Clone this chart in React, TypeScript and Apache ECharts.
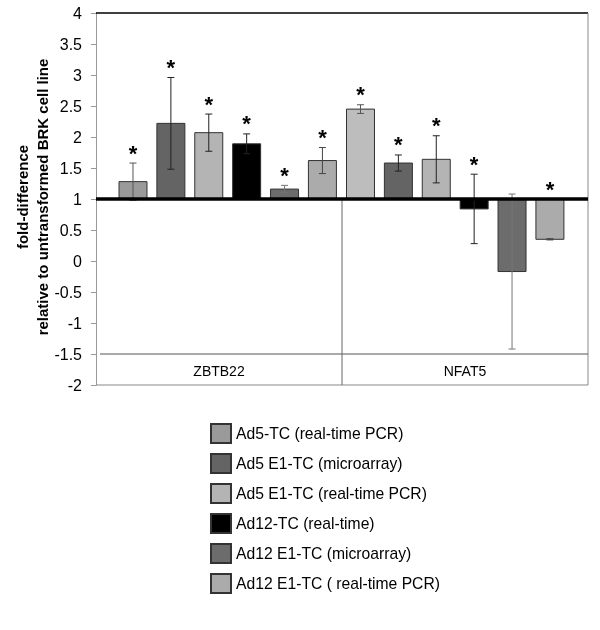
import React, { useEffect, useRef } from "react";
import * as echarts from "echarts";

const categories = ["ZBTB22", "NFAT5"];
const seriesNames = [
  "Ad5-TC (real-time PCR)",
  "Ad5 E1-TC (microarray)",
  "Ad5 E1-TC (real-time PCR)",
  "Ad12-TC (real-time)",
  "Ad12 E1-TC (microarray)",
  "Ad12 E1-TC ( real-time PCR)",
];

// fold-difference values, [ZBTB22, NFAT5]
const ad5TC = [1.28, 2.45];
const ad5E1Microarray = [2.22, 1.58];
const ad5E1PCR = [2.07, 1.64];
const ad12TC = [1.89, 0.84];
const ad12E1Microarray = [1.16, -0.17];
const ad12E1PCR = [1.62, 0.35];

// error bar half-lengths, [ZBTB22, NFAT5]
const ad5TCErr = [0.3, 0.07];
const ad5E1MicroarrayErr = [0.74, 0.13];
const ad5E1PCRErr = [0.3, 0.38];
const ad12TCErr = [0.16, 0.56];
const ad12E1MicroarrayErr = [0.06, 1.25];
const ad12E1PCRErr = [0.21, 0.01];

// significance asterisks, [ZBTB22, NFAT5]
const ad5TCSig = [1, 1];
const ad5E1MicroarraySig = [1, 1];
const ad5E1PCRSig = [1, 1];
const ad12TCSig = [1, 1];
const ad12E1MicroarraySig = [1, 0];
const ad12E1PCRSig = [1, 1];

const yMin = -2;
const yMax = 4;
const yInterval = 0.5;
const baseline = 1;
const labelBandLine = -1.5;

const values = [ad5TC, ad5E1Microarray, ad5E1PCR, ad12TC, ad12E1Microarray, ad12E1PCR];
const errors = [ad5TCErr, ad5E1MicroarrayErr, ad5E1PCRErr, ad12TCErr, ad12E1MicroarrayErr, ad12E1PCRErr];
const sigs = [ad5TCSig, ad5E1MicroarraySig, ad5E1PCRSig, ad12TCSig, ad12E1MicroarraySig, ad12E1PCRSig];

// styling
const FONT = "'Liberation Sans', Arial, sans-serif";
const fills = [
  ["#9a9a9a", "#bdbdbd"],
  ["#646464", "#646464"],
  ["#b4b4b4", "#b4b4b4"],
  ["#000000", "#000000"],
  ["#6c6c6c", "#6c6c6c"],
  ["#ababab", "#ababab"],
];
const errColors = ["#555", "#222", "#222", "#222", "#777", "#444"];
const groupOffset = [0.1504, 0.0752];
const barStep = 0.154;
const barWidthFrac = 0.1138;

export default function App() {
  const ref = useRef<HTMLDivElement>(null);
  useEffect(() => {
    if (!ref.current) return;
    const chart = echarts.init(ref.current, undefined, { renderer: "svg" });

    const barSeries = seriesNames.map((name, s) => ({
      type: "custom",
      name,
      itemStyle: { color: fills[s][0], borderColor: "#333", borderWidth: 1 },
      data: categories.map((_, c) => [c, values[s][c], errors[s][c], sigs[s][c]]),
      renderItem: (params: any, api: any) => {
        const cat = api.value(0);
        const v = api.value(1);
        const err = api.value(2);
        const sig = api.value(3);
        const band = api.size([1, 0])[0];
        const basePt = api.coord([cat, baseline]);
        const catStart = basePt[0] - band / 2;
        const cx = catStart + band * (groupOffset[cat] + s * barStep);
        const w = band * barWidthFrac;
        const yBase = basePt[1];
        const yVal = api.coord([cat, v])[1];
        const yHi = api.coord([cat, v + err])[1];
        const yLo = api.coord([cat, v - err])[1];
        const cap = 3.5;
        const children: any[] = [
          {
            type: "rect",
            shape: { x: cx - w / 2, y: Math.min(yBase, yVal), width: w, height: Math.abs(yVal - yBase) },
            style: { fill: fills[s][cat], stroke: "#333", lineWidth: 1 },
          },
          { type: "line", shape: { x1: cx, y1: yHi, x2: cx, y2: yLo }, style: { stroke: errColors[s], lineWidth: 1 } },
          { type: "line", shape: { x1: cx - cap, y1: yHi, x2: cx + cap, y2: yHi }, style: { stroke: errColors[s], lineWidth: 1 } },
          { type: "line", shape: { x1: cx - cap, y1: yLo, x2: cx + cap, y2: yLo }, style: { stroke: errColors[s], lineWidth: 1 } },
        ];
        if (sig) {
          const top = Math.min(yHi, yBase, yVal);
          children.push({
            type: "text",
            x: cx,
            y: top - 10,
            style: {
              text: "*",
              fontSize: 22,
              fontWeight: "bold",
              fontFamily: FONT,
              fill: "#000",
              align: "center",
              verticalAlign: "middle",
            },
          });
        }
        return { type: "group", children };
      },
      z: 2,
    }));

    const frameSeries = {
      type: "custom",
      name: "frame",
      silent: true,
      z: 5,
      data: [[0]],
      renderItem: (params: any, api: any) => {
        const band = api.size([1, 0])[0];
        const c0 = api.coord([0, baseline]);
        const c1 = api.coord([1, baseline]);
        const left = c0[0] - band / 2;
        const right = c1[0] + band / 2;
        const mid = c0[0] + band / 2;
        const yTop = api.coord([0, yMax])[1];
        const yBot = api.coord([0, yMin])[1];
        const yBase = c0[1];
        const yBand = api.coord([0, labelBandLine])[1];
        return {
          type: "group",
          children: [
            { type: "line", shape: { x1: left, y1: yTop, x2: right, y2: yTop }, style: { stroke: "#000", lineWidth: 1.5 } },
            { type: "line", shape: { x1: right, y1: yTop, x2: right, y2: yBot }, style: { stroke: "#888", lineWidth: 1 } },
            { type: "line", shape: { x1: left, y1: yBot, x2: right, y2: yBot }, style: { stroke: "#888", lineWidth: 1 } },
            { type: "line", shape: { x1: left + 4, y1: yBand, x2: right, y2: yBand }, style: { stroke: "#555", lineWidth: 1 } },
            { type: "line", shape: { x1: mid, y1: yBase, x2: mid, y2: yBot }, style: { stroke: "#666", lineWidth: 1 } },
            { type: "line", shape: { x1: left, y1: yBase, x2: right, y2: yBase }, style: { stroke: "#000", lineWidth: 3.5 } },
          ],
        };
      },
    };

    chart.setOption({
      animation: false,
      grid: { left: 96, right: 12, top: 13, bottom: 245, containLabel: false },
      xAxis: {
        type: "category",
        data: categories,
        axisLine: { show: false },
        axisTick: { show: false },
        splitLine: { show: false },
        axisLabel: { margin: -21, fontSize: 14, color: "#000", fontFamily: FONT },
      },
      yAxis: {
        type: "value",
        min: yMin,
        max: yMax,
        interval: yInterval,
        axisLine: { show: true, lineStyle: { color: "#999", width: 1 } },
        axisTick: { show: true, length: 5, lineStyle: { color: "#999" } },
        splitLine: { show: false },
        axisLabel: { margin: 14, fontSize: 16, color: "#000", fontFamily: FONT },
      },
      legend: {
        data: seriesNames,
        orient: "vertical",
        left: 210,
        top: 423,
        itemWidth: 20,
        itemHeight: 19,
        itemGap: 9,
        icon: "rect",
        padding: 0,
        textStyle: { fontSize: 15.7, color: "#000", fontFamily: FONT },
        selectedMode: false,
      },
      graphic: [
        {
          type: "text",
          x: 32,
          y: 197,
          rotation: Math.PI / 2,
          style: {
            text: "fold-difference\nrelative to untransformed BRK cell line",
            fontSize: 15,
            fontWeight: "bold",
            fontFamily: FONT,
            fill: "#000",
            align: "center",
            verticalAlign: "middle",
            lineHeight: 20,
          },
        },
      ],
      series: [...barSeries, frameSeries],
    });
    return () => chart.dispose();
  }, []);
  return <div ref={ref} style={{ position: "fixed", left: 0, top: 0, width: 600, height: 630 }} />;
}
